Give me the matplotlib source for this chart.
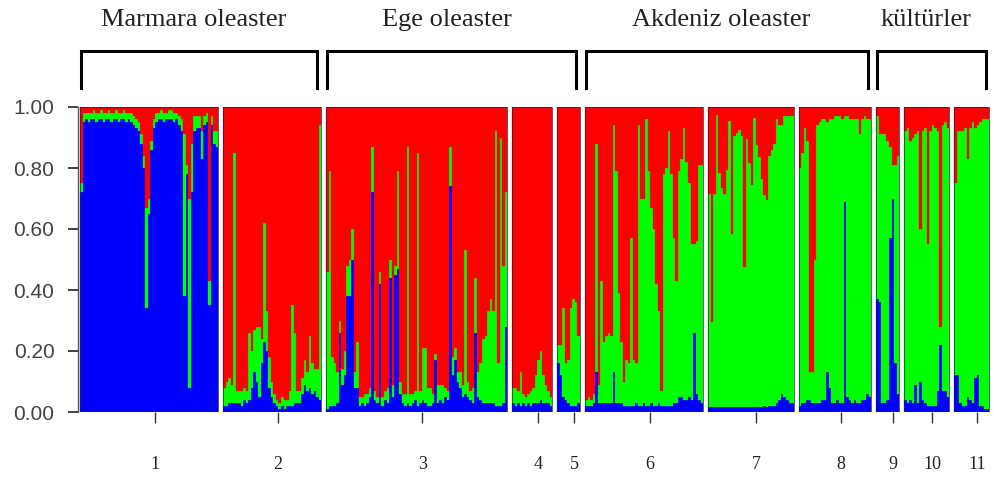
# -*- coding: utf-8 -*-
# STRUCTURE bar plot (K=3): 11 populations, grouped into 4 regions

import numpy as np
import matplotlib
matplotlib.use('Agg')
import matplotlib.pyplot as plt
import matplotlib.transforms as mtransforms
from matplotlib.patches import Rectangle

plt.rcParams['font.family'] = ['Liberation Sans', 'DejaVu Sans']

pop_labels = ['1', '2', '3', '4', '5', '6', '7', '8', '9', '10', '11']
group_names = ['Marmara oleaster', 'Ege oleaster', 'Akdeniz oleaster', 'kültürler']
group_pops = [[0, 1], [2, 3, 4], [5, 6, 7], [8, 9, 10]]
y_ticks = [0.0, 0.2, 0.4, 0.6, 0.8, 1.0]

# membership coefficients per individual (blue cluster, green cluster); red = rest
blue_1 = [0.72, 0.95, 0.96, 0.95, 0.96, 0.96, 0.95, 0.96, 0.96, 0.95,
          0.96, 0.96, 0.95, 0.96, 0.96, 0.95, 0.96, 0.96, 0.95, 0.96,
          0.95, 0.94, 0.93, 0.92, 0.88, 0.80, 0.34, 0.65, 0.86, 0.93,
          0.95, 0.96, 0.96, 0.95, 0.96, 0.96, 0.96, 0.95, 0.96, 0.94,
          0.92, 0.38, 0.78, 0.08, 0.72, 0.92, 0.93, 0.93, 0.83, 0.94,
          0.95, 0.35, 0.94, 0.88, 0.87]
green_1 = [0.03, 0.03, 0.02, 0.03, 0.02, 0.03, 0.03, 0.02, 0.03, 0.03,
           0.02, 0.03, 0.03, 0.02, 0.03, 0.03, 0.02, 0.03, 0.03, 0.02,
           0.03, 0.03, 0.03, 0.03, 0.03, 0.04, 0.33, 0.05, 0.03, 0.03,
           0.03, 0.02, 0.03, 0.03, 0.02, 0.03, 0.03, 0.03, 0.02, 0.03,
           0.04, 0.53, 0.03, 0.62, 0.16, 0.05, 0.04, 0.04, 0.09, 0.03,
           0.03, 0.08, 0.03, 0.04, 0.05]

blue_2 = [0.02, 0.02, 0.03, 0.03, 0.03, 0.03, 0.03, 0.02, 0.04, 0.03,
          0.04, 0.08, 0.13, 0.10, 0.05, 0.16, 0.23, 0.20, 0.08, 0.05,
          0.03, 0.02, 0.01, 0.02, 0.01, 0.02, 0.02, 0.02, 0.03, 0.03,
          0.03, 0.06, 0.09, 0.07, 0.08, 0.06, 0.07, 0.05, 0.04]
green_2 = [0.06, 0.08, 0.08, 0.06, 0.82, 0.04, 0.04, 0.05, 0.04, 0.04,
           0.22, 0.12, 0.14, 0.18, 0.23, 0.08, 0.39, 0.13, 0.10, 0.05,
           0.03, 0.02, 0.02, 0.03, 0.03, 0.02, 0.05, 0.33, 0.23, 0.04,
           0.04, 0.05, 0.08, 0.06, 0.17, 0.10, 0.07, 0.09, 0.90]

blue_3 = [0.01, 0.02, 0.02, 0.02, 0.03, 0.26, 0.09, 0.12, 0.38, 0.38,
          0.50, 0.08, 0.08, 0.02, 0.03, 0.02, 0.03, 0.05, 0.72, 0.04,
          0.03, 0.42, 0.02, 0.04, 0.03, 0.44, 0.05, 0.45, 0.47, 0.06,
          0.03, 0.02, 0.03, 0.02, 0.03, 0.04, 0.02, 0.03, 0.04, 0.03,
          0.02, 0.02, 0.03, 0.17, 0.03, 0.04, 0.03, 0.05, 0.04, 0.74,
          0.12, 0.17, 0.10, 0.08, 0.05, 0.06, 0.05, 0.04, 0.03, 0.26,
          0.05, 0.04, 0.03, 0.03, 0.03, 0.03, 0.03, 0.02, 0.02, 0.02,
          0.03, 0.28]
green_3 = [0.45, 0.77, 0.16, 0.14, 0.10, 0.04, 0.05, 0.08, 0.10, 0.12,
           0.10, 0.05, 0.15, 0.03, 0.02, 0.04, 0.03, 0.03, 0.15, 0.03,
           0.02, 0.04, 0.03, 0.03, 0.05, 0.06, 0.04, 0.03, 0.32, 0.04,
           0.03, 0.04, 0.84, 0.04, 0.03, 0.03, 0.83, 0.04, 0.17, 0.18,
           0.06, 0.06, 0.03, 0.02, 0.06, 0.05, 0.06, 0.03, 0.03, 0.13,
           0.06, 0.04, 0.03, 0.05, 0.04, 0.47, 0.05, 0.03, 0.05, 0.18,
           0.08, 0.12, 0.21, 0.22, 0.30, 0.34, 0.30, 0.90, 0.14, 0.88,
           0.45, 0.44]

blue_4 = [0.03, 0.02, 0.03, 0.02, 0.03, 0.02, 0.03, 0.02, 0.03, 0.03,
          0.03, 0.04, 0.03, 0.03, 0.03, 0.02]
green_4 = [0.05, 0.06, 0.04, 0.11, 0.03, 0.03, 0.03, 0.05, 0.05, 0.09,
           0.14, 0.16, 0.09, 0.06, 0.04, 0.03]

blue_5 = [0.16, 0.12, 0.05, 0.04, 0.03, 0.02, 0.02, 0.02, 0.03]
green_5 = [0.06, 0.10, 0.29, 0.12, 0.14, 0.32, 0.35, 0.34, 0.22]

blue_6 = [0.02, 0.02, 0.02, 0.03, 0.13, 0.03, 0.03, 0.03, 0.03, 0.03,
          0.03, 0.13, 0.03, 0.03, 0.03, 0.02, 0.02, 0.02, 0.02, 0.02,
          0.03, 0.02, 0.02, 0.03, 0.02, 0.02, 0.03, 0.02, 0.02, 0.03,
          0.02, 0.02, 0.02, 0.02, 0.02, 0.03, 0.03, 0.05, 0.05, 0.04,
          0.04, 0.05, 0.04, 0.26, 0.06, 0.04, 0.03]
green_6 = [0.02, 0.03, 0.02, 0.03, 0.75, 0.06, 0.40, 0.20, 0.22, 0.23,
           0.22, 0.81, 0.76, 0.36, 0.20, 0.08, 0.15, 0.14, 0.55, 0.15,
           0.13, 0.92, 0.68, 0.67, 0.94, 0.77, 0.64, 0.58, 0.40, 0.30,
           0.05, 0.76, 0.78, 0.90, 0.76, 0.54, 0.40, 0.74, 0.78, 0.89,
           0.78, 0.70, 0.51, 0.29, 0.50, 0.77, 0.78]

blue_7 = [0.015, 0.015, 0.015, 0.015, 0.015, 0.015, 0.015, 0.015, 0.015, 0.015,
          0.015, 0.015, 0.015, 0.015, 0.015, 0.015, 0.015, 0.015, 0.015, 0.015,
          0.015, 0.015, 0.02, 0.015, 0.02, 0.02, 0.02, 0.03, 0.04, 0.06,
          0.05, 0.04, 0.03, 0.03]
green_7 = [0.70, 0.28, 0.70, 0.96, 0.77, 0.72, 0.70, 0.78, 0.94, 0.57,
           0.89, 0.90, 0.91, 0.89, 0.46, 0.88, 0.80, 0.73, 0.95, 0.86,
           0.82, 0.75, 0.69, 0.68, 0.82, 0.84, 0.86, 0.93, 0.90, 0.88,
           0.92, 0.93, 0.94, 0.94]

blue_8 = [0.02, 0.03, 0.03, 0.04, 0.04, 0.03, 0.03, 0.03, 0.03, 0.04,
          0.04, 0.13, 0.08, 0.03, 0.03, 0.04, 0.03, 0.03, 0.69, 0.05,
          0.04, 0.03, 0.04, 0.03, 0.03, 0.04, 0.04, 0.06, 0.05]
green_8 = [0.78, 0.82, 0.90, 0.85, 0.09, 0.10, 0.47, 0.91, 0.92, 0.92,
           0.92, 0.82, 0.88, 0.93, 0.94, 0.93, 0.94, 0.93, 0.28, 0.92,
           0.92, 0.93, 0.92, 0.93, 0.88, 0.92, 0.93, 0.90, 0.91]

blue_9 = [0.37, 0.36, 0.03, 0.03, 0.04, 0.57, 0.70, 0.16, 0.06]
green_9 = [0.60, 0.55, 0.88, 0.88, 0.85, 0.30, 0.11, 0.65, 0.78]

blue_10 = [0.04, 0.03, 0.04, 0.03, 0.09, 0.03, 0.10, 0.04, 0.03, 0.02,
           0.02, 0.02, 0.02, 0.07, 0.22, 0.07, 0.07, 0.05]
green_10 = [0.88, 0.90, 0.85, 0.87, 0.82, 0.89, 0.50, 0.88, 0.90, 0.53,
            0.90, 0.92, 0.91, 0.85, 0.06, 0.87, 0.88, 0.88]

blue_11 = [0.12, 0.12, 0.03, 0.02, 0.02, 0.05, 0.04, 0.03, 0.11, 0.12,
           0.02, 0.02, 0.01, 0.01]
green_11 = [0.63, 0.80, 0.89, 0.90, 0.91, 0.78, 0.89, 0.92, 0.82, 0.82,
            0.93, 0.94, 0.95, 0.95]

blue = [blue_1, blue_2, blue_3, blue_4, blue_5, blue_6,
        blue_7, blue_8, blue_9, blue_10, blue_11]
green = [green_1, green_2, green_3, green_4, green_5, green_6,
         green_7, green_8, green_9, green_10, green_11]

c_blue, c_green, c_red = '#0000FF', '#00FF00', '#FF0000'
gap = 2.0  # white space between populations (in individuals)

fig = plt.figure(figsize=(9.95, 4.82), dpi=100)
ax = fig.add_axes([78 / 995, 70 / 482, 912 / 995, 305 / 482])

spans = []
x0 = 0.0
for b, g in zip(blue, green):
    b = np.array(b)
    g = np.array(g)
    r = 1 - b - g
    x = x0 + np.arange(len(b)) + 0.5
    ax.bar(x, b, width=1.0, color=c_blue, edgecolor=c_blue, linewidth=0.2)
    ax.bar(x, g, bottom=b, width=1.0, color=c_green, edgecolor=c_green, linewidth=0.2)
    ax.bar(x, r, bottom=b + g, width=1.0, color=c_red, edgecolor=c_red, linewidth=0.2)
    # thin dark frame around every population block
    ax.add_patch(Rectangle((x0, 0), len(b), 1, fill=False,
                           edgecolor='#202040', linewidth=0.7, alpha=0.7))
    spans.append((x0, x0 + len(b)))
    x0 += len(b) + gap
total = x0 - gap

ax.set_xlim(-0.8, total + 0.2)
ax.set_ylim(0, 1)

# population ticks
ax.set_xticks([(s + e) / 2 + 2.2 for s, e in spans])
ax.set_xticklabels(pop_labels, family=['Liberation Serif', 'DejaVu Serif'], fontsize=13)
ax.tick_params(axis='x', length=8, width=1.0, color='#333333', pad=24, labelcolor='#222222')

ax.set_yticks(y_ticks)
ax.set_yticklabels(['%.2f' % v for v in y_ticks])
ax.tick_params(axis='y', length=7, width=1.3, color='#333333', pad=10,
               labelsize=15, labelcolor='#444444')

for side in ['top', 'right', 'bottom']:
    ax.spines[side].set_visible(False)
ax.spines['left'].set_color('#555555')
ax.spines['left'].set_linewidth(1.0)

# region brackets and names
trans = mtransforms.blended_transform_factory(ax.transData, ax.transAxes)
for name, pops in zip(group_names, group_pops):
    xa = spans[pops[0]][0] + 0.3
    xb = spans[pops[-1]][1] - 1.5
    ax.plot([xa, xa, xb, xb], [1.062, 1.184, 1.184, 1.062], color='black',
            linewidth=2.2, transform=trans, clip_on=False, solid_joinstyle='miter')
    ax.text((xa + xb) / 2 - 2, 1.285, name, transform=trans, ha='center', va='center',
            fontsize=19, color='#222222', family=['Liberation Serif', 'DejaVu Serif'])

fig.savefig('out.png', dpi=100)
